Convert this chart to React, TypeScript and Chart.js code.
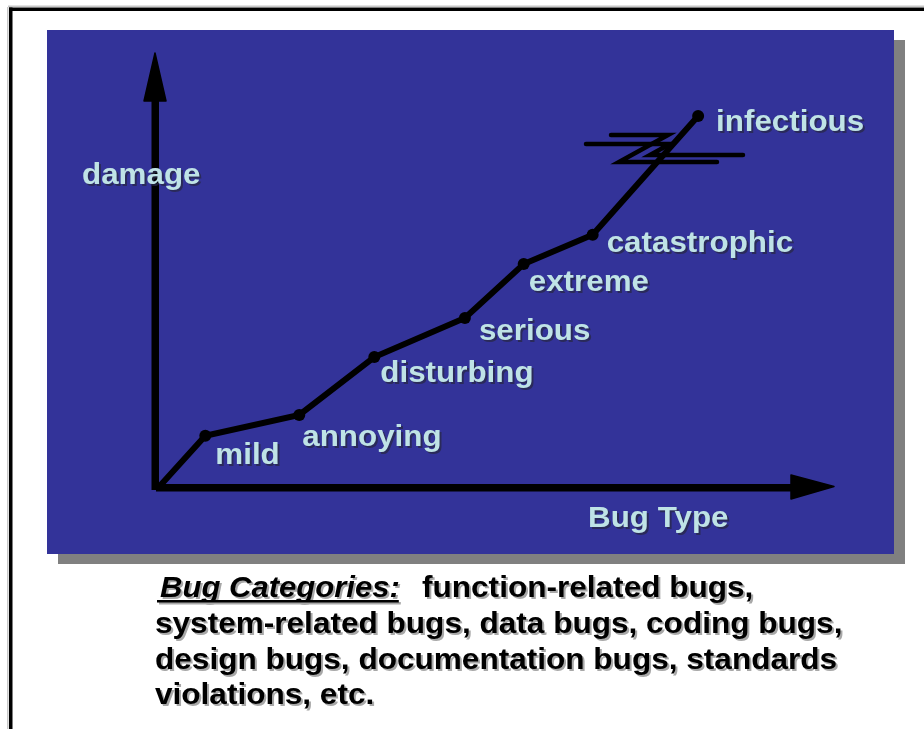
import React, { useEffect, useRef } from "react";
import { Chart, registerables } from "chart.js";

Chart.register(...registerables);

// ---- data ----
const categories = ["", "mild", "annoying", "disturbing", "serious", "extreme", "catastrophic", "infectious"];
const bugTypePos = [0, 0.70, 2.09, 3.20, 4.54, 5.41, 6.43, 7.99];
const damageVals = [0, 1.20, 1.68, 3.01, 3.91, 5.15, 5.82, 8.55];
const yAxisTitle = "damage";
const xAxisTitle = "Bug Type";
const captionHead = "Bug Categories:";
const captionLines = [
  "function-related bugs,",
  "system-related bugs, data bugs, coding bugs,",
  "design bugs, documentation bugs, standards",
  "violations, etc.",
];

// label offsets (style) relative to each point
const labelOffsets: [number, number][] = [
  [0, 0], [10, 28], [3, 31], [6, 25], [14, 22], [5, 27], [14, 17], [18, 15],
];

const LABEL_COLOR = "#bfe3e6";
const PANEL = "#333399";
const FONT = "bold 30px 'Liberation Sans', Arial, sans-serif";
const LABEL_SX = 1.045;
const CAP_SX = 1.052;

function shadowText(
  ctx: CanvasRenderingContext2D, t: string, x: number, y: number,
  color: string, shadow: string, sx: number
) {
  ctx.save();
  ctx.translate(x, y);
  ctx.scale(sx, 1);
  ctx.fillStyle = shadow;
  ctx.fillText(t, 2 / sx, 2);
  ctx.fillStyle = color;
  ctx.fillText(t, 0, 0);
  ctx.restore();
}

const decorPlugin = {
  id: "decor",
  beforeDraw(chart: any) {
    const ctx: CanvasRenderingContext2D = chart.ctx;
    const W = chart.width, H = chart.height;
    ctx.save();
    ctx.fillStyle = "#ffffff";
    ctx.fillRect(0, 0, W, H);
    // frame
    ctx.fillStyle = "#c8c8c8";
    ctx.fillRect(8, 5.5, W, 1.5);
    ctx.fillRect(7, 7, 1.5, H);
    ctx.fillStyle = "#000";
    ctx.fillRect(9, 7.5, W, 3.5);
    ctx.fillRect(9, 7.5, 3.5, H);
    // panel shadow + panel
    ctx.fillStyle = "#808080";
    ctx.fillRect(58, 40, 847, 524);
    ctx.fillStyle = PANEL;
    ctx.fillRect(47, 30, 847, 524);
    ctx.restore();
  },
  beforeDatasetsDraw(chart: any) {
    const ctx: CanvasRenderingContext2D = chart.ctx;
    const a = chart.chartArea;
    const ox = a.left, oy = a.bottom;
    ctx.save();
    ctx.fillStyle = "#000";
    // vertical shaft
    ctx.fillRect(ox - 6.5, a.top + 45, 7.5, oy - (a.top + 45) + 2);
    // vertical head
    ctx.beginPath();
    ctx.moveTo(ox - 3, a.top);
    ctx.lineTo(ox - 14, a.top + 48);
    ctx.lineTo(ox + 8, a.top + 48);
    ctx.closePath();
    ctx.lineJoin = "round";
    ctx.lineWidth = 1.5;
    ctx.strokeStyle = "#000";
    ctx.fill();
    ctx.stroke();
    // horizontal shaft
    ctx.fillRect(ox - 2, oy - 4, a.right - 42 - ox + 2, 7.5);
    // horizontal head
    ctx.beginPath();
    ctx.moveTo(a.right, oy - 1.5);
    ctx.lineTo(a.right - 43, oy - 13);
    ctx.lineTo(a.right - 43, oy + 11);
    ctx.closePath();
    ctx.fill();
    ctx.stroke();
    ctx.restore();
  },
  afterDatasetsDraw(chart: any) {
    const ctx: CanvasRenderingContext2D = chart.ctx;
    const meta = chart.getDatasetMeta(0);
    ctx.save();
    // zigzag break symbol
    ctx.strokeStyle = "#000";
    ctx.lineWidth = 4.5;
    ctx.lineJoin = "miter";
    ctx.lineCap = "round";
    ctx.beginPath();
    ctx.moveTo(611, 135);
    ctx.lineTo(668, 135);
    ctx.lineTo(619, 162);
    ctx.lineTo(717, 162);
    ctx.stroke();
    ctx.beginPath();
    ctx.moveTo(586, 144);
    ctx.lineTo(670, 144);
    ctx.lineTo(650, 155);
    ctx.lineTo(743, 155);
    ctx.stroke();

    ctx.font = FONT;
    ctx.textBaseline = "alphabetic";
    ctx.textAlign = "left";
    const sh = "rgba(40,40,70,0.75)";
    meta.data.forEach((pt: any, i: number) => {
      if (!categories[i]) return;
      const [dx, dy] = labelOffsets[i];
      shadowText(ctx, categories[i], pt.x + dx, pt.y + dy, LABEL_COLOR, sh, LABEL_SX);
    });
    const a = chart.chartArea;
    shadowText(ctx, yAxisTitle, 82, 184, LABEL_COLOR, sh, LABEL_SX);
    shadowText(ctx, xAxisTitle, 588, a.bottom + 39, LABEL_COLOR, sh, LABEL_SX);

    // caption
    const cs = "#a8a8a8";
    ctx.font = "italic bold 30px 'Liberation Sans', Arial, sans-serif";
    shadowText(ctx, captionHead, 160, 597, "#000", cs, 1.035);
    const hw = ctx.measureText(captionHead).width * 1.035;
    ctx.fillStyle = cs;
    ctx.fillRect(159, 602, hw + 2, 2.5);
    ctx.fillStyle = "#000";
    ctx.fillRect(157, 600, hw + 2, 2.5);
    ctx.font = FONT;
    shadowText(ctx, captionLines[0], 422, 597, "#000", cs, CAP_SX);
    shadowText(ctx, captionLines[1], 155, 633, "#000", cs, CAP_SX);
    shadowText(ctx, captionLines[2], 155, 669, "#000", cs, CAP_SX);
    shadowText(ctx, captionLines[3], 155, 704, "#000", cs, CAP_SX);
    ctx.restore();
  },
};

export default function App() {
  const ref = useRef<HTMLCanvasElement | null>(null);
  useEffect(() => {
    if (!ref.current) return;
    const chart = new Chart(ref.current, {
      type: "scatter",
      data: {
        datasets: [
          {
            data: bugTypePos.map((x, i) => ({ x, y: damageVals[i] })),
            showLine: true,
            borderColor: "#000",
            borderWidth: 6,
            backgroundColor: "#000",
            pointRadius: bugTypePos.map((_, i) => (i === 0 ? 0 : 6)),
            pointBorderWidth: 0,
            tension: 0,
          },
        ],
      },
      options: {
        animation: false,
        responsive: false,
        devicePixelRatio: 1,
        layout: { padding: { left: 158, right: 90, top: 53, bottom: 241 } },
        plugins: { legend: { display: false }, tooltip: { enabled: false } },
        events: [],
        scales: {
          x: { type: "linear", min: 0, max: 10, display: false },
          y: { type: "linear", min: 0, max: 10, display: false },
        },
      },
      plugins: [decorPlugin],
    });
    return () => chart.destroy();
  }, []);
  return (
    <div style={{ position: "absolute", left: 0, top: 0, width: 924, height: 729 }}>
      <canvas ref={ref} width={924} height={729} style={{ display: "block" }} />
    </div>
  );
}
